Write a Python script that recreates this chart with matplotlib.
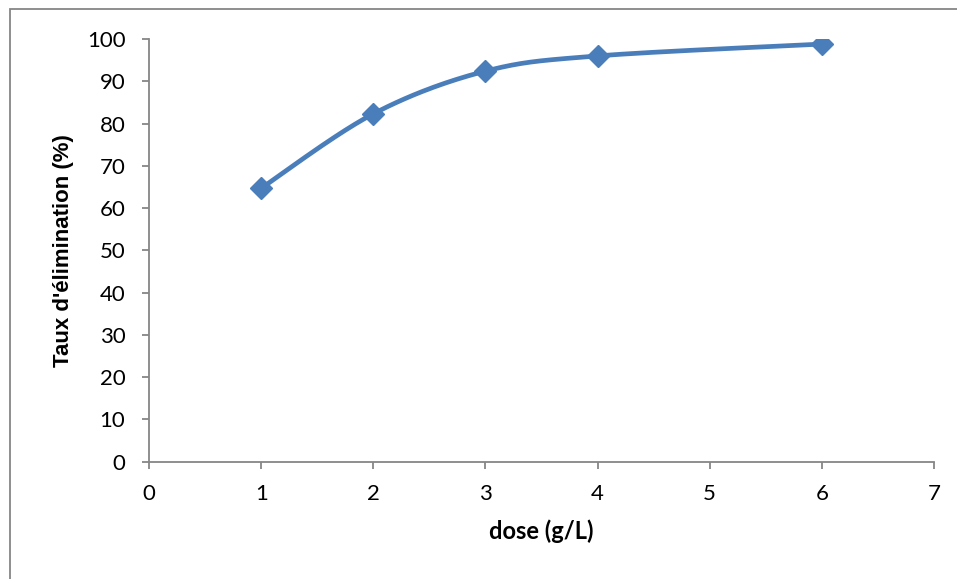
import numpy as np
import matplotlib.pyplot as plt
from matplotlib.patches import Rectangle

dose = [1, 2, 3, 4, 6]
taux = [64.7, 82.3, 92.4, 96.0, 98.8]
xticks = [0, 1, 2, 3, 4, 5, 6, 7]
yticks = [0, 10, 20, 30, 40, 50, 60, 70, 80, 90, 100]

blue = '#4a7ebb'
grey = '#868686'

def smooth(x, y, n=40):
    # Excel-like smoothed line: cubic Bezier with Catmull-Rom control points
    p = np.column_stack([x, y]).astype(float)
    # scale to roughly pixel space so the curve shape matches the chart
    sc = np.array([785/7., 422.7/100.])
    q = p*sc
    out = []
    for i in range(len(q)-1):
        p0 = q[i-1] if i > 0 else q[i]
        p1 = q[i]
        p2 = q[i+1]
        p3 = q[i+2] if i+2 < len(q) else q[i+1]
        c1 = p1 + (p2-p0)/6.
        c2 = p2 - (p3-p1)/6.
        t = np.linspace(0, 1, n)[:, None]
        seg = (1-t)**3*p1 + 3*(1-t)**2*t*c1 + 3*(1-t)*t**2*c2 + t**3*p2
        out.append(seg if i == 0 else seg[1:])
    out = np.vstack(out)/sc
    return out[:, 0], out[:, 1]

fig = plt.figure(figsize=(9.57, 5.79), dpi=100)
ax = fig.add_axes([149/957., 1-461.7/579., 785/957., 422.7/579.])

sx, sy = smooth(dose, taux)
ax.plot(sx, sy, color=blue, lw=3.4, solid_capstyle='round', zorder=3)
ax.plot(dose, taux, linestyle='none', marker='D', ms=11, color=blue, zorder=4)

ax.set_xlim(0, 7)
ax.set_ylim(0, 100)
ax.set_xticks(xticks)
ax.set_yticks(yticks)
for s in ['top', 'right']:
    ax.spines[s].set_visible(False)
for s in ['left', 'bottom']:
    ax.spines[s].set_color(grey)
    ax.spines[s].set_linewidth(1.3)
ax.tick_params(axis='both', direction='out', length=5, width=1.3, color=grey,
               labelsize=16, labelcolor='black')
ax.tick_params(axis='x', pad=11)
ax.tick_params(axis='y', pad=12)
for lab in ax.get_xticklabels() + ax.get_yticklabels():
    lab.set_fontfamily('Lato')

ax.set_xlabel('dose (g/L)', fontsize=17, fontweight='bold', family='Lato', labelpad=11)
ax.set_ylabel("Taux d'élimination (%)", fontsize=16, fontweight='bold',
              family='Liberation Sans', labelpad=9)

fig.patches.append(Rectangle((10/957., -0.05), 1.1, 1-9/579.+0.05, transform=fig.transFigure,
                             fill=False, edgecolor=grey, lw=1.3))

fig.savefig('out.png', dpi=100)
